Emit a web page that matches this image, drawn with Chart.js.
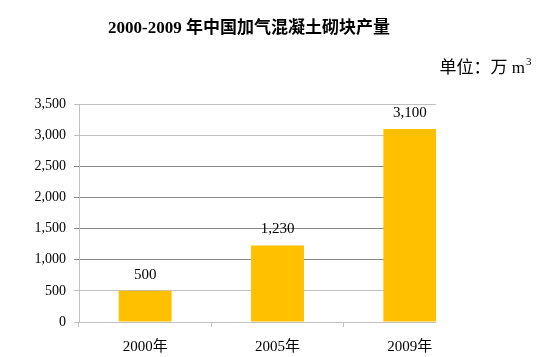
<!DOCTYPE html>
<html><head><meta charset="utf-8">
<script src="https://cdn.jsdelivr.net/npm/chart.js@4/dist/chart.umd.min.js"></script>
<style>html,body{margin:0;padding:0;background:#fff}#w{width:537px;height:357px}</style>
</head><body><div id="w"><canvas id="c"></canvas></div>
<script>
const categories = ['2000年', '2005年', '2009年'];
const values = [500, 1230, 3100];
const yTicks = [0, 500, 1000, 1500, 2000, 2500, 3000, 3500];
const titleText = '2000-2009 年中国加气混凝土砌块产量';
const unitText = '单位：万 m';

const serif = "'Liberation Serif','Times New Roman','Noto Sans CJK SC',serif";

const textPlugin = {
  id: 'texts',
  afterDraw(chart) {
    const ctx = chart.ctx;
    ctx.save();
    // crop right part like the reference
    ctx.fillStyle = '#fff';
    ctx.fillRect(436, 88, 101, 269);
    ctx.fillStyle = '#000';
    ctx.font = "bold 17px " + serif;
    ctx.textAlign = 'center';
    ctx.textBaseline = 'middle';
    ctx.fillText(titleText, 249, 29);
    ctx.font = "17px " + serif;
    ctx.textAlign = 'right';
    ctx.fillText(unitText, 525, 69);
    ctx.font = "11px " + serif;
    ctx.textAlign = 'left';
    ctx.fillText('3', 526, 62);
    // data labels
    ctx.font = "15px " + serif;
    ctx.textAlign = 'center';
    ctx.textBaseline = 'middle';
    const meta = chart.getDatasetMeta(0);
    meta.data.forEach((bar, i) => {
      ctx.fillText(values[i].toLocaleString('en-US'), bar.x, bar.y - 16);
    });
    ctx.restore();
  }
};

const darkLines = [1000, 1500, 2000, 2500];

new Chart(document.getElementById('c'), {
  type: 'bar',
  data: {
    labels: categories,
    datasets: [{
      data: values,
      backgroundColor: '#FFC000',
      borderWidth: 0,
      barPercentage: 0.4,
      categoryPercentage: 1.0
    }]
  },
  options: {
    responsive: true,
    maintainAspectRatio: false,
    animation: false,
    layout: { padding: { top: 104, right: 61, left: 0, bottom: 0 } },
    plugins: { legend: { display: false }, tooltip: { enabled: false } },
    scales: {
      y: {
        min: 0, max: 3500,
        afterBuildTicks(axis) { axis.ticks = yTicks.map(v => ({ value: v })); },
        afterFit(axis) { axis.width = 79; },
        ticks: {
          color: '#000',
          font: { family: serif, size: 14 },
          padding: 8,
          callback: v => v.toLocaleString('en-US')
        },
        grid: {
          color: c => (c.tick && darkLines.includes(c.tick.value)) ? '#888888' : '#c0c0c0',
          tickLength: 5, lineWidth: 1
        },
        border: { color: '#c0c0c0' }
      },
      x: {
        afterFit(axis) { axis.height = 35; },
        ticks: { color: '#000', font: { family: serif, size: 15 }, padding: 11 },
        grid: { drawOnChartArea: false, color: '#c0c0c0', tickLength: 5, offset: true },
        border: { color: '#c0c0c0' }
      }
    }
  },
  plugins: [textPlugin]
});
</script>
</body></html>
